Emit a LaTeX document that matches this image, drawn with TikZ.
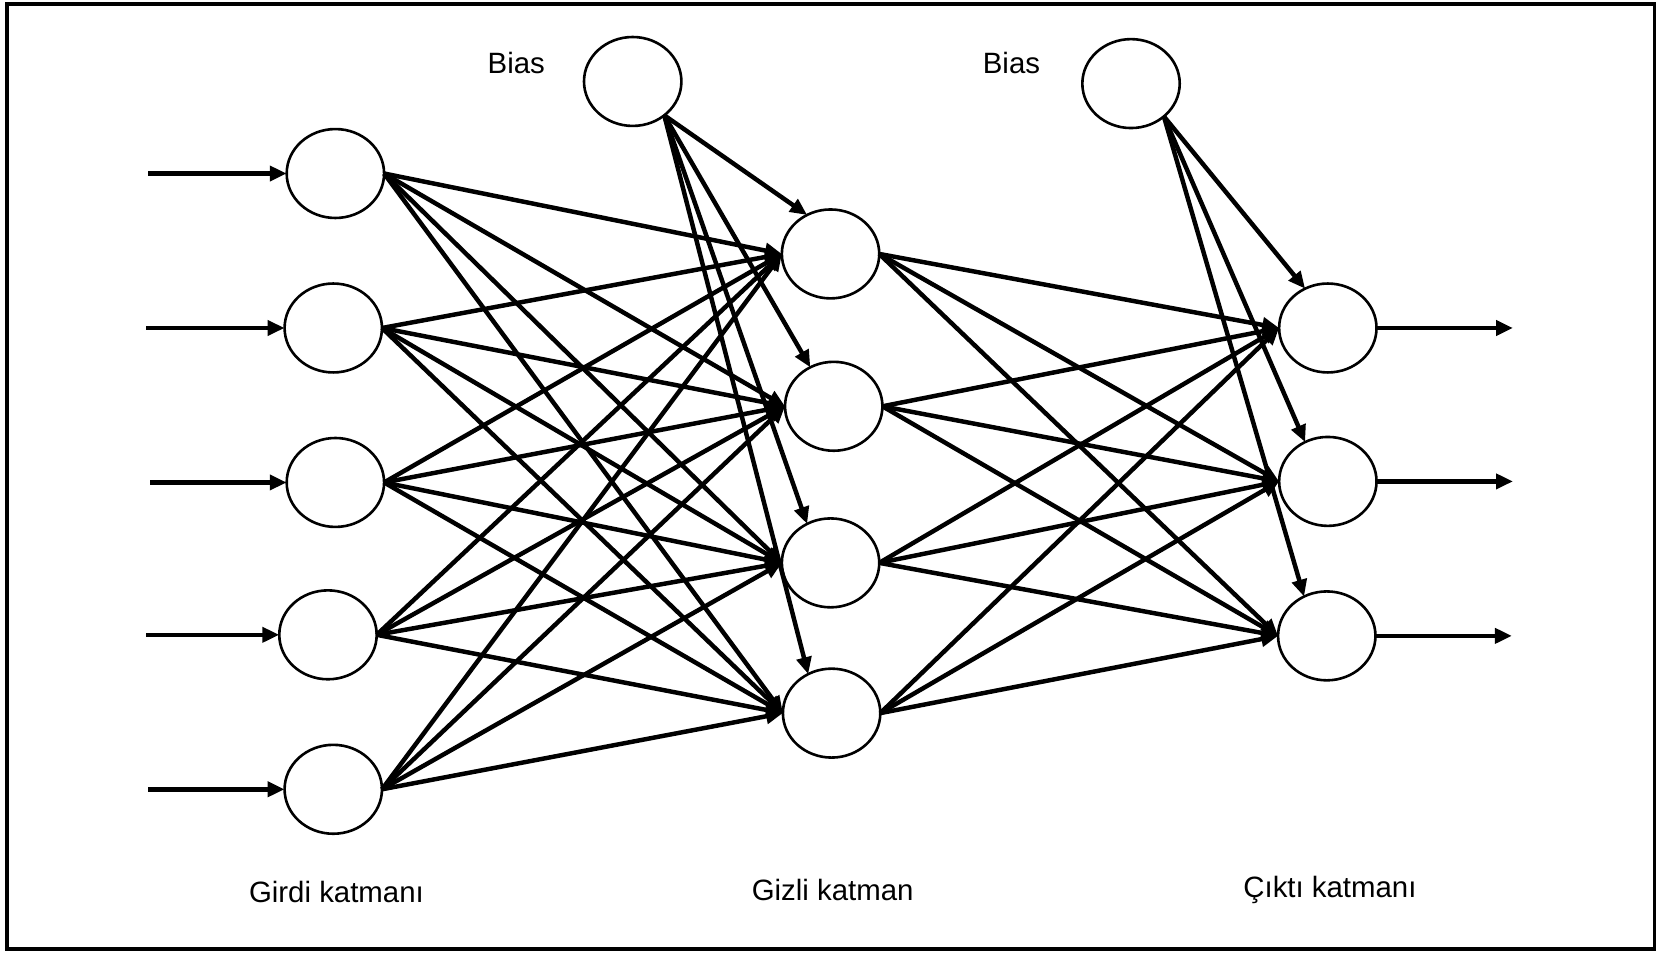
\documentclass[tikz,border=0pt]{standalone}
\usepackage{fontspec}
\setmainfont{Liberation Sans}
\usetikzlibrary{arrows.meta,shapes.geometric}
\begin{document}
\begin{tikzpicture}[x=0.01cm,y=-0.01cm,
  neuron/.style={draw,ellipse,line width=0.7pt,minimum width=0.92cm,minimum height=0.84cm,inner sep=0pt,outer sep=0pt},
  link/.style={line width=1.2pt,-{Triangle[length=0.16cm,width=0.14cm]}},
  label/.style={font=\fontsize{7.9}{9.5}\selectfont,inner sep=0pt}]
  \useasboundingbox (0,0) rectangle (1568,900);
  \draw[line width=0.85pt] (6.6,3.8) rectangle (1564,897);

  % input layer
  \node[neuron] (i1) at (317,164) {};
  \node[neuron] (i2) at (315,310) {};
  \node[neuron] (i3) at (317,456) {};
  \node[neuron] (i4) at (310,600) {};
  \node[neuron] (i5) at (315,746) {};
  % hidden layer
  \node[neuron] (h1) at (785,240) {};
  \node[neuron] (h2) at (788,384) {};
  \node[neuron] (h3) at (785,532) {};
  \node[neuron] (h4) at (786,674) {};
  % output layer
  \node[neuron] (o1) at (1255,310) {};
  \node[neuron] (o2) at (1255,455) {};
  \node[neuron] (o3) at (1254,601) {};
  % bias units
  \node[neuron] (b1) at (598,77) {};
  \node[neuron] (b2) at (1069,79) {};

  % labels
  \node[label] (lb1) at (488,60) {Bias};
  \node[label] (lb2) at (956,60) {Bias};
  \node[label] (lin) at (318,843) {Girdi katmanı};
  \node[label] (lhid) at (787,841) {Gizli katman};
  \node[label] (lout) at (1257,841) {Çıktı katmanı};

  % external inputs
  \coordinate (x1) at (140,164);
  \coordinate (x2) at (138,310);
  \coordinate (x3) at (142,456);
  \coordinate (x4) at (138,600);
  \coordinate (x5) at (140,746);
  \foreach \k in {1,...,5} \draw[link] (x\k) -- (i\k.west);

  % external outputs
  \coordinate (y1) at (1430,310);
  \coordinate (y2) at (1430,455);
  \coordinate (y3) at (1429,601);
  \foreach \k in {1,2,3} \draw[link] (o\k.east) -- (y\k);

  % input -> hidden
  \foreach \a in {1,...,5}
    \foreach \b in {1,...,4}
      \draw[link] (i\a.east) -- (h\b.west);

  % hidden -> output
  \foreach \a in {1,...,4}
    \foreach \b in {1,2,3}
      \draw[link] (h\a.east) -- (o\b.west);

  % bias connections
  \foreach \b in {1,...,4} \draw[link] (b1.-47) -- (h\b.121);
  \foreach \b in {1,2,3} \draw[link] (b2.-45) -- (o\b.120);
\end{tikzpicture}
\end{document}
